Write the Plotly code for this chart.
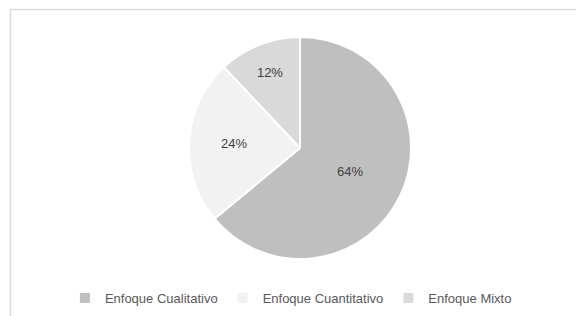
import plotly.graph_objects as go

W, H = 576, 316
categories = ["Enfoque Cualitativo", "Enfoque Cuantitativo", "Enfoque Mixto"]
values = [64, 24, 12]
colors = ["#bfbfbf", "#f2f2f2", "#d9d9d9"]

cx, cy, r = 300, 148, 111

fig = go.Figure(go.Pie(
    labels=categories,
    values=values,
    sort=False,
    direction="clockwise",
    rotation=0,
    marker=dict(colors=colors, line=dict(color="white", width=2)),
    texttemplate="%{value}%",
    textposition="inside",
    insidetextorientation="horizontal",
    textfont=dict(color="#404040", size=13, family="Liberation Sans"),
    hoverinfo="label+percent",
    domain=dict(x=[(cx - r) / W, (cx + r) / W], y=[1 - (cy + r) / H, 1 - (cy - r) / H]),
))

fig.update_layout(
    width=W, height=H,
    margin=dict(l=0, r=0, t=0, b=0),
    paper_bgcolor="white",
    font=dict(family="Liberation Sans", color="#595959", size=13),
    showlegend=True,
    legend=dict(orientation="h", x=0.505, xanchor="center", y=1 - 298 / H, yanchor="middle",
                font=dict(size=13, color="#595959"), itemwidth=30, tracegroupgap=0),
    shapes=[
        dict(type="line", xref="paper", yref="paper", x0=10 / W, x1=1, y0=1 - 9.5 / H, y1=1 - 9.5 / H,
             line=dict(color="#d9d9d9", width=1.5)),
        dict(type="line", xref="paper", yref="paper", x0=10.5 / W, x1=10.5 / W, y0=0, y1=1 - 9 / H,
             line=dict(color="#d9d9d9", width=1.5)),
    ],
)

fig.write_html("out.html", config={"displayModeBar": False},
               post_script="document.body.style.margin='0';document.body.style.overflow='hidden';")
